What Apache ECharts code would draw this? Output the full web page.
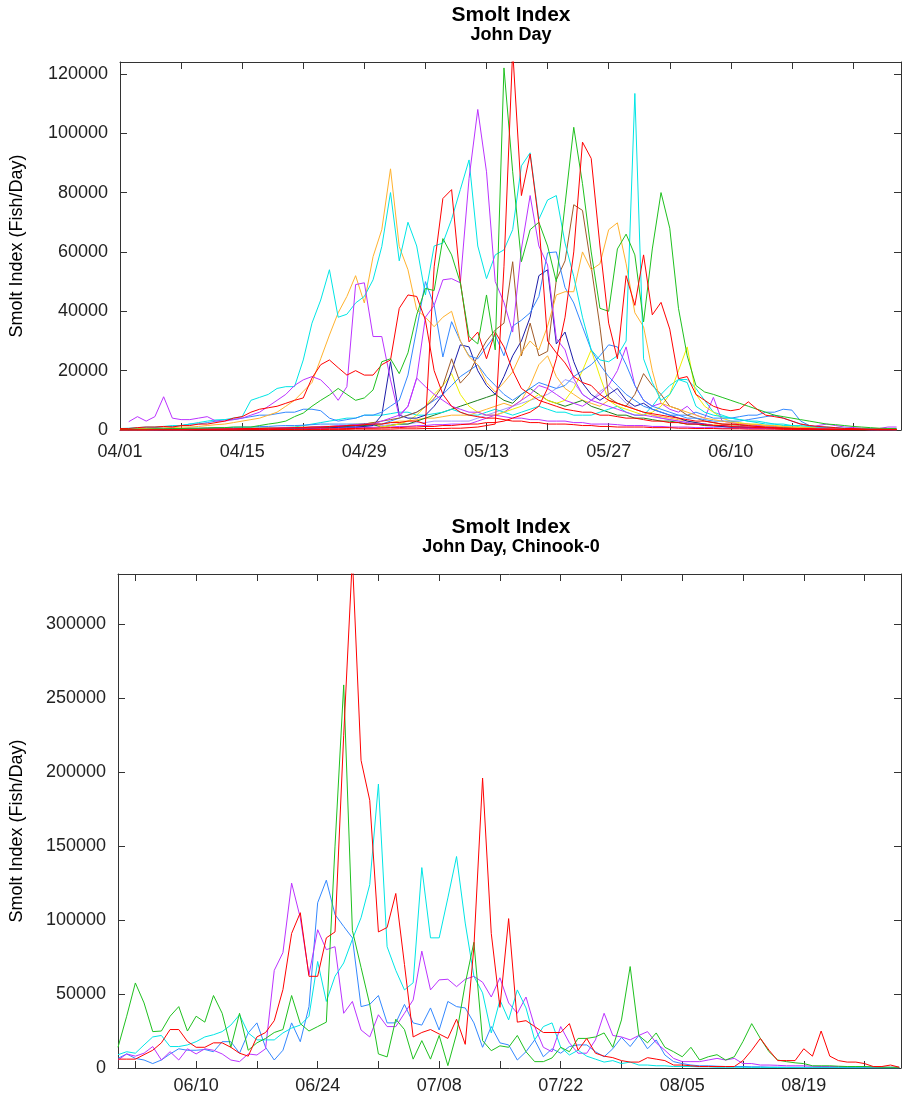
<!DOCTYPE html>
<html><head><meta charset="utf-8">
<script src="https://cdn.jsdelivr.net/npm/echarts@6/dist/echarts.min.js"></script>
<style>html,body{margin:0;padding:0;background:#fff}#c{width:902px;height:1120px}</style>
</head><body><div id="c"></div><script>
// ---------- DATA (values in thousands of fish/day, index = day offset) ----------
// Top panel: John Day, day 0 = 04/01
const topBase = [4, 1];
const topXLabels = ['04/01','04/15','04/29','05/13','05/27','06/10','06/24'];
const topYTicks = [0,20000,40000,60000,80000,100000,120000];
const R1 = [0.5,0.5,0.8,1,1,1.2,1,1.5,1.5,2, 2,2.5,3,4,4.5,6,7,7.5,8,9, 10,10.8,17.5,22,23.6,21,18.5,20,18.5,18.5, 22,23.6,41,45.5,45,37,20,12,8,6, 5,4.5,4,4,3.5,3,3,2.5,2.5,2, 2,2,1.8,1.5,1.5,1.2,1.2,1,1,1, 1,0.8,0.8,0.8,0.6,0.6,0.5,0.5,0.5,0.4, 0.4,0.4,0.3,0.3,0.3,0.3,0.2,0.2,0.2,0.2, 0.2,0.1,0.1,0.1,0.1,0.1,0.1,0.1,0.1,0.1];
const R2 = [0.1,0.1,0.1,0.1,0.2,0.2,0.2,0.2,0.3,0.3, 0.3,0.3,0.4,0.4,0.5,0.5,0.5,0.6,0.6,0.7, 0.8,0.8,1,1,1.2,1.2,1.5,1.5,1.8,2, 2,2.5,2.5,3,3,2,55,78,81,50, 29.7,33,24,33,28,20,14,12,10,9, 8,7,6.5,6,6,5,5,4.5,4,4, 3.5,3,3,2.5,2.5,2,2,1.8,1.5,1.5, 1.2,1,1,0.8,0.8,0.6,0.5,0.5,0.4,0.4, 0.3,0.3,0.3,0.2,0.2,0.2,0.2,0.1,0.1,0.1];
const R3 = [0,0,0,0,0,0,0,0,0,0, 0,0,0,0,0,0.1,0.1,0.1,0.1,0.1, 0.1,0.1,0.2,0.2,0.2,0.2,0.2,0.3,0.3,0.3, 0.3,0.3,0.4,0.4,0.4,0.5,0.5,0.5,0.6,0.6, 0.8,1,1.5,2,55,128,79,93,70,30, 26,22.6,18,16,15,12,10,9,8,7, 6,5.5,5,4.5,4,3.5,3,3,2.5,2, 2,1.8,1.5,1.2,1,0.8,0.6,0.5,0.5,0.4, 0.3,0.3,0.2,0.2,0.2,0.1,0.1,0.1,0.1,0.1];
const R4 = [0,0,0,0,0,0,0,0,0,0, 0,0,0,0,0.1,0.1,0.1,0.1,0.2,0.2, 0.2,0.3,0.3,0.3,0.4,0.4,0.5,0.5,0.6,0.6, 0.7,0.8,0.8,1,1,1.2,1.2,1.5,1.5,1.8, 2,2,2.5,2.5,3,4,5,6,8,14, 24,38,60,97,91.5,62,36,24,52,42, 59,38.8,43,34,17.3,18,12,10,8,7, 6.5,7,9.5,7,5,4.5,4,3,2,1.5, 1.2,1,0.8,0.5,0.5,0.4,0.3,0.3,0.2,0.2];
const G1 = [0.2,0.2,0.3,0.3,0.4,0.4,0.5,0.5,0.6,0.6, 0.7,0.8,0.8,1,1,1,1.5,2,2.4,3, 4.5,5.7,8,10,11.8,14,12,10,10.8,13.5, 23,24,19,26,38.8,47.7,47,64.5,59,49.6, 31.5,29,45.5,27,122,87,56.7,67.5,70,62, 50,76,102,83,60,41,40,61,66,59, 36.4,61,80,68,41,25,15,12.8,12,11, 10,9,8,7,6,5,4.5,4,3.5,3, 2.5,2,1.8,1.5,1.2,1,0.8,0.6,0.5,0.5];
const G2 = [0.1,0.1,0.1,0.1,0.2,0.2,0.2,0.2,0.3,0.3, 0.3,0.4,0.4,0.5,0.5,0.5,0.6,0.6,0.7,0.7, 0.8,0.8,0.9,1,1,1.2,1.2,1.5,1.5,1.8, 1,1.5,2,2,3,4,5,6,7,8, 9,10,11,12,10,9,12,14,12,10, 9,8,9,10,8,7,6,5,5,4, 4,3.5,3,3,2.5,2,2,1.5,1.5,1.2, 1,1,0.8,0.8,0.6,0.6,0.5,0.5,0.4,0.4, 0.3,0.3,0.3,0.2,0.2,0.2,0.2,0.1,0.1,0.1];
const C1 = [0.5,0.6,0.8,1,1,1.2,1.5,1.5,2,2.5, 3,3.4,3.5,4,4.5,10,11,12,14,14.6, 14.6,23.6,36,43.8,54,38,39,42.8,45,50.6, 61.8,80,57,70,62,45.5,62,63,71,81, 91,62,51,59,60.7,67.5,89,93.4,71,77.5, 79,63,51.7,38,27,23.6,23,25,30,113.4, 24,16,10,12,17,16,8,6,5,4.5, 4,3.5,3,3,2.5,2,2,1.5,1.5,1.2, 1,1,0.8,0.6,0.5,0.5,0.4,0.3,0.3,0.2];
const C2 = [0.1,0.1,0.1,0.2,0.2,0.2,0.3,0.3,0.3,0.4, 0.4,0.5,0.5,0.5,0.6,0.6,0.7,0.8,0.8,0.9, 1,1.5,2,2.5,3,3.5,4,4,5,5, 5,5.5,6,6,5,5,5.5,6,7,6, 5,5,6,7,6,5,6,7,8,7, 6,6,5,5,5,6,7,8,6,5, 5,8,12,15,17,17,14,10,6,5, 4,3.5,3,2.5,2,2,1.5,1.5,1,1, 0.8,0.6,0.5,0.4,0.4,0.3,0.3,0.2,0.2,0.1];
const M1 = [null,2.8,4.5,3,4.5,11.2,4,3.5,3.5,4, 4.5,3,3,3.5,4,5,6,8,10,12, 15,16.9,18,16.9,14,10,14.6,49,49.6,31.5, 31.5,16.9,4.5,8,17.5,14.6,12,10,8,7, 6,6,5,5,4.5,4,4,3.5,3.5,3, 3,3,2.5,2.5,2,2,2,1.8,1.5,1.5, 1.5,1.2,1.2,1,1,1,0.8,0.8,0.8,0.6, 0.6,0.6,0.5,0.5,0.5,0.4,0.4,0.4,0.3,0.3, 0.3,0.3,0.2,0.2,0.2,0.2,0.1,0.1,0.1,0.1];
const M2 = [0.1,0.1,0.1,0.1,0.1,0.2,0.2,0.2,0.2,0.3, 0.3,0.3,0.4,0.4,0.5,0.5,0.6,0.6,0.7,0.8, 0.8,0.9,1,1.2,1.2,1.5,1.5,1.8,2,2, 3,4,5,8,17.5,38,42,50.6,51,49.6, 84.8,108,87,50,43,33,61,79,62,55.6, 30.8,27,17.3,12,10,9,8,7,6,5, 5,4.5,4,3.5,3,2.5,2,2,1.5,1.5, 1.2,1,1,0.8,0.8,0.6,0.5,0.5,0.4,0.4, 0.3,0.3,0.3,0.2,0.2,0.2,0.1,0.1,0.1,0.1];
const M3 = [0,0,0,0,0,0,0,0,0.1,0.1, 0.1,0.1,0.1,0.2,0.2,0.2,0.2,0.3,0.3,0.3, 0.4,0.4,0.5,0.5,0.6,0.6,0.7,0.8,0.8,0.9, 1,1,1.2,1.2,1.5,1.5,1.8,1.8,2,2, 2,3,4,5,6,8,10,12,15,14, 12,10,9,8,10,12,15,20,28,15, 10,8,9,7,6,8,5,4,11,3, 2.5,2,2,1.5,1.5,1.2,1,1,0.8,0.8, 1.5,2,1.5,1,0.8,0.6,0.5,0.5,1,1];
const B1 = [0.5,0.5,0.6,0.7,0.8,1,1.2,1.5,2,2, 2.5,3,3.5,3.5,4,4.5,5,5,5.5,6, 6,7,7,6.5,4,3,3.5,4,5,5, 6,8,10,18.5,34,50,42,24.6,36.5,30, 25,24,28,32,25,35,37,39.5,45,59.7, 60,48,42.8,34.8,27,22,18,15,12,10, 8,7,6,5,5,4,4,3.5,3,3, 3,3,3.5,4,4.5,5,4,3,2,1.5, 1,0.8,0.6,0.5,0.4,0.3,0.3,0.2,0.2,0.2];
const B2 = [0.2,0.2,0.3,0.3,0.4,0.4,0.5,0.5,0.6,0.6, 0.7,0.8,0.8,0.9,1,1,1.2,1.2,1.4,1.5, 1.5,1.6,1.8,2,2,2,2,2,2,2, 2,3,4,5,6,8,10,12,15,18, 20,22,18,15,12,10,12,14,16,15, 14,15,18,20,22,25,28.7,28,22,15, 10,8,7,6,5,5,6,5,4,4, 4,4.5,5,5,6,6,7,6.7,3,1.5, 1,0.8,0.6,0.5,0.4,0.3,0.2,0.2,0.2,0.2];
const N1 = [0.1,0.1,0.1,0.1,0.1,0.1,0.2,0.2,0.2,0.2, 0.3,0.3,0.3,0.4,0.4,0.4,0.5,0.5,0.5,0.6, 0.6,0.7,0.7,0.8,0.8,0.9,1,1,1.2,1.5, 5,23,5,4,4,5,8,12,20,28.7, 28,20,15,12,18,25,30,38,52,54, 29,33,23,15.8,12,10,12,14,10,8, 9,7,6,5,4,3,2.5,2,1.5,1.2, 1,1,0.8,0.8,0.6,0.6,0.5,0.5,0.4,0.4, 0.3,0.3,0.3,0.2,0.2,0.2,0.2,0.1,0.1,0.1];
const BR = [0.1,0.1,0.1,0.1,0.1,0.2,0.2,0.2,0.2,0.3, 0.3,0.3,0.3,0.4,0.4,0.4,0.5,0.5,0.6,0.6, 0.7,0.8,0.8,0.9,1,1.2,1.5,1.8,2,2.5, 3,3.5,4,5,6,7.8,10.6,15,24,15.8, 19,25,30,33.7,36,56.7,25,36,25,26.5, 50.6,57,75.9,74,55,34.8,11,9,8,12, 19,15,12,8,7,5,4,3,2.5,2, 1.8,1.6,1.4,1.2,1,1,0.8,0.8,0.6,0.6, 0.5,0.5,0.4,0.4,0.3,0.3,0.2,0.2,0.2,0.1];
const Y1 = [0.1,0.1,0.1,0.1,0.2,0.2,0.2,0.3,0.3,0.3, 0.4,0.4,0.5,0.5,0.5,0.6,0.6,0.7,0.8,0.8, 0.9,1,1,1.2,1.2,1.5,1.5,2,2,2.5, 1,1.5,2,3,5,8,12,15,19,12, 8,6,5,5,6,7,8,10,12,10, 9,10,14,20,27,18,10,8,7,6, 5,6,8,12,20,28,12,8,6,4, 3,2.5,2,2,1.5,1.5,1.2,1,1,0.8, 0.8,0.6,0.6,0.5,0.4,0.4,0.3,0.3,0.2,0.2];
const O1 = [0.3,0.4,0.5,0.5,0.6,0.7,0.8,1,1,1.2, 1.5,1.8,2,2.5,3,3.5,4,5,6,8, 10,13,16,24,32,39.5,45,52,42.8,58.4, 67.5,88,61.8,54,40.5,38,34.8,38,40,30, 24.7,22,16,12.8,16,19.6,26,30,27,35, 45.5,46.6,46.6,60,54,56,67.5,69.8,56,39.5, 34.8,20,9,8,7,6,5,4,3.5,3, 2.5,2.2,2,1.8,1.6,1.4,1.2,1,0.8,0.7, 0.6,0.5,0.4,0.4,0.3,0.3,0.2,0.2,0.2,0.2];
const O2 = [0,0,0,0,0.1,0.1,0.1,0.1,0.2,0.2, 0.2,0.3,0.3,0.3,0.4,0.4,0.5,0.5,0.6,0.6, 0.7,0.8,0.9,1,1,1.2,1.4,1.6,1.8,2, 2,2.5,3,3,3.5,4,4,4.5,5,5, 5,6,7,8,9,8,10,15,22,25, 18,14,12,10,9,8,10,9,8,7, 6,5,4.5,4,3.5,3,2.5,2,1.8,1.6, 1.4,1.2,1,1,0.8,0.8,0.6,0.6,0.5,0.5, 0.4,0.4,0.3,0.3,0.2,0.2,0.2,0.1,0.1,0.1];
const L1 = [0,0,0,0,0,0.1,0.1,0.1,0.1,0.2, 0.2,0.2,0.3,0.3,0.3,0.4,0.4,0.5,0.5,0.6, 0.6,0.7,0.8,0.8,0.9,1,1,1.2,1.2,1.5, 1.5,1.8,2,2,2.5,2.5,3,3,3,3, 3,4,5,6,7,8,9,10,11,12, 14,17,16,12,10,13,15,12,9,7, 6,5,4,3.5,3,2.5,2,1.5,1.2,1, 1,0.8,0.8,0.6,0.6,0.5,0.5,0.4,0.4,0.3, 0.3,0.3,0.2,0.2,0.2,0.2,0.1,0.1,0.1,0.1];

// Bottom panel: John Day, Chinook-0, day 0 = 06/01
const botBase = [6, 1];
const botXLabels = ['06/10','06/24','07/08','07/22','08/05','08/19'];
const botYTicks = [0,50000,100000,150000,200000,250000,300000];
const bRed = [6,6,6,9,12,17,26,26,18,14, 14,17,17,14,10,8,21,24,32,53, 91,105,62,62,88,92,225,345,208,181, 92,95,118,70,21,24,26,23,20,33, 16,82,196,91,41,101,31,32,28,24, 24,24,30,12,20,10,8,7,5,4, 4,7,6,5,2,2,1.5,1,1,1, 1,1,5,12,20,12,5,5,5,13, 8,25,8,5,4,4,3,1,1,2, 0.5];
const bGreen = [14,35,57.5,44,24.6,25,35,41.5,25,35, 31,49,37,14,37,12,17,20,24,26, 49,30,25,28,31,150,259,93,68,43, 9.5,7.5,33,26,6,18.5,6,22,1.6,23, 57,85,18.5,11.7,15,14,22,11,4.3,4.3, 6.8,14,11,20,20,21,23.7,14,32.5,68.6, 22,17,23.7,14,11,7.6,14,5.4,7.6,9, 5.4,7.6,18,30,20,11,5.4,4.3,3.5,3, 1.5,1.5,1.5,1.2,1,1,1,0.8,0.6,0.5, 0.5];
const bCyan = [9,11,10,15.6,21,22,14.5,14.5,15.6,17.8, 21,22.5,24.6,29,36,23.7,19,19,19,23.7, 27,29,35,72,45,62,71,87,101.6,124, 192,82,66,52.8,57.6,135.5,88,88,115,143, 98,62,50.8,23.7,46,32.5,52.8,40.6,19,28, 30.5,14,8.8,12,8,6,4,5,3,4, 2,2,1.5,1.5,1,1,1,0.8,0.8,0.5, 0.5,0.5,0.5,0.4,0.4,0.4,0.3,0.3,0.3,0.2, 0.2,0.2,0.2,0.2,0.1,0.1,0.1,0.1,0.1,0.1, 0.1];
const bMagenta = [5.4,9.5,8,10,14.5,5.4,11,5.4,13,9.5, 13,12,9.5,5.4,4.3,9.5,8.8,13,66,78, 125,101.6,63,93.5,80,82,37,45,25.7,21, 36,28,28,37,46,79,52.8,59.6,60,55, 60,62,58,48,61,44,37,48,28,14, 11,28,17,10,10,19,37,22,21,19, 22,24.6,17,12,6.5,4.3,4.3,4.3,5.4,6.5, 5.4,6.5,3,3,2,2,1.8,1.5,1.5,1.5, 1.2,1,1,1,0.8,0.8,0.6,0.5,0.5,0.5, 0.5];
const bBlue = [6.5,9.5,6.5,5.4,3,5.4,9.5,13,12,12, 12.5,11,17.8,17.8,10,23.7,30.5,14,5.4,12, 30.5,17.8,41.5,111.7,127,103.7,95.7,88,41.5,43, 49,30.5,30.5,43,30.5,29,40.6,25.7,45,41.5, 40.6,30.5,14,28,17,15.6,5.4,11,19,7.6, 13,10,14.5,15.6,15.6,11,7.6,13,20.7,14.5, 22,13,19,8.8,4.3,3,2,1.5,1.5,1.2, 1,1,1,0.8,0.8,0.6,0.6,0.5,0.5,0.5, 0.5,0.4,0.4,0.4,0.3,0.3,0.3,0.2,0.2,0.2, 0.2];

// ---------- helpers ----------
const FONT = '"Liberation Sans", Arial, Helvetica, sans-serif';
const UNIT = 1000;
function dayOf(base, mmdd) {
  const [m, d] = mmdd.split('/').map(Number);
  return Math.round((Date.UTC(2001, m - 1, d) - Date.UTC(2001, base[0] - 1, base[1])) / 864e5);
}
function fmt(base, day) {
  const t = new Date(Date.UTC(2001, base[0] - 1, base[1]) + Math.round(day) * 864e5);
  return String(t.getUTCMonth() + 1).padStart(2, '0') + '/' + String(t.getUTCDate()).padStart(2, '0');
}
function toPts(arr) {
  const out = [];
  arr.forEach((v, i) => { if (v !== null) out.push([i, v * UNIT]); });
  return out;
}
const topLabelDays = topXLabels.map(s => dayOf(topBase, s));
const topTickDays = [];
topLabelDays.forEach(d => { topTickDays.push(d); if (d + 7 <= 89) topTickDays.push(d + 7); });
const botLabelDays = botXLabels.map(s => dayOf(botBase, s));
const botTickDays = [botLabelDays[0] - 7];
botLabelDays.forEach(d => { botTickDays.push(d); if (d + 7 <= 90) botTickDays.push(d + 7); });

const AX = '#333';
const LBL = 18;
function xPair(gi, min, max, ticks, labels, base, margin) {
  const common = {
    type: 'value', gridIndex: gi, min, max, splitLine: { show: false },
    axisLine: { show: true, onZero: false, lineStyle: { color: AX, width: 1 } },
    axisTick: { show: true, inside: true, length: 7, customValues: ticks, lineStyle: { color: AX } }
  };
  return [
    Object.assign({}, common, { position: 'bottom',
      axisLabel: { customValues: labels, formatter: v => fmt(base, v), fontSize: LBL, color: '#222', margin, fontFamily: FONT } }),
    Object.assign({}, common, { position: 'top', axisLabel: { show: false } })
  ];
}
function yPair(gi, max, ticks) {
  const common = {
    type: 'value', gridIndex: gi, min: 0, max, splitLine: { show: false },
    axisLine: { show: true, onZero: false, lineStyle: { color: AX, width: 1 } },
    axisTick: { show: true, inside: true, length: 7, customValues: ticks, lineStyle: { color: AX } }
  };
  return [
    Object.assign({}, common, { position: 'left',
      axisLabel: { customValues: ticks, formatter: v => String(v), fontSize: LBL, color: '#222', margin: 12, fontFamily: FONT } }),
    Object.assign({}, common, { position: 'right', axisLabel: { show: false } })
  ];
}
function line(name, arr, color, xi, yi) {
  return { name, type: 'line', data: toPts(arr), xAxisIndex: xi, yAxisIndex: yi,
    symbol: 'none', showSymbol: false, clip: true, animation: false,
    lineStyle: { color, width: 1 }, itemStyle: { color } };
}

const COL = { red: '#ff0000', green: '#1fc01f', dgreen: '#1d7f1d', cyan: '#00e5e5', mag: '#bb33ff',
  blue: '#3388ff', navy: '#1c1ca8', brown: '#a05a28', yellow: '#eeee00', orange: '#ffb22e', lav: '#a49bff' };

const topSeries = [
  ['L1', L1, COL.lav], ['O2', O2, COL.orange], ['G2', G2, COL.dgreen], ['C2', C2, COL.cyan],
  ['M3', M3, COL.mag], ['Y1', Y1, COL.yellow], ['B2', B2, COL.blue], ['N1', N1, COL.navy],
  ['BR', BR, COL.brown], ['B1', B1, COL.blue], ['O1', O1, COL.orange], ['C1', C1, COL.cyan],
  ['M1', M1, COL.mag], ['M2', M2, COL.mag], ['R1', R1, COL.red], ['R2', R2, COL.red],
  ['G1', G1, COL.green], ['R4', R4, COL.red], ['R3', R3, COL.red]
].map(s => line(s[0], s[1], s[2], 0, 0));

const botSeries = [
  ['blue', bBlue, COL.blue], ['magenta', bMagenta, COL.mag], ['cyan', bCyan, COL.cyan],
  ['green', bGreen, COL.green], ['red', bRed, COL.red]
].map(s => line(s[0], s[1], s[2], 2, 2));

const txt = (t, x, y, px, bold, rot) => ({
  type: 'text', x, y, rotation: rot || 0,
  style: { text: t, fill: '#000', font: (bold ? 'bold ' : '') + px + 'px ' + FONT, textAlign: 'center', textVerticalAlign: 'middle' }
});

const chart = echarts.init(document.getElementById('c'), null, { renderer: 'canvas' });
chart.setOption({
  backgroundColor: '#fff',
  animation: false,
  grid: [
    { left: 120, right: 1, top: 62, height: 368 },
    { left: 118, right: 1, top: 574, height: 494 }
  ],
  xAxis: [...xPair(0, 0, 89.5, topTickDays, topLabelDays, topBase, 13), ...xPair(1, 0, 90.2, botTickDays, botLabelDays, botBase, 9)],
  yAxis: [...yPair(0, 124000, topYTicks), ...yPair(1, 334000, botYTicks)],
  graphic: [
    txt('Smolt Index', 511, 15, 21, true),
    txt('John Day', 511, 35, 18, true),
    txt('Smolt Index', 511, 527, 21, true),
    txt('John Day, Chinook-0', 511, 547, 18, true),
    txt('Smolt Index (Fish/Day)', 17, 246, 18, false, Math.PI / 2),
    txt('Smolt Index (Fish/Day)', 17, 831, 18, false, Math.PI / 2)
  ],
  series: [...topSeries, ...botSeries]
});
</script></body></html>
